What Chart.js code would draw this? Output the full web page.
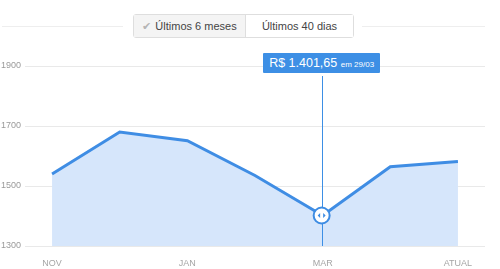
<!DOCTYPE html>
<html>
<head>
<meta charset="utf-8">
<script src="https://cdn.jsdelivr.net/npm/chart.js@4/dist/chart.umd.min.js"></script>
<style>
  html, body { margin: 0; padding: 0; background: #fff; }
  body { width: 500px; height: 269px; position: relative; overflow: hidden; font-family: "Liberation Sans", Arial, sans-serif; }
  #chart { position: absolute; left: 0; top: 0; }
  .rule { position: absolute; top: 26px; height: 1px; background: #eeeeee; }
  .tabs { position: absolute; left: 133px; top: 14px; height: 22px; display: flex; border: 1px solid #dedede; border-radius: 3px; font-size: 11px; color: #444; }
  .tabs div { line-height: 22px; text-align: center; }
  .tabs .on { width: 111px; background: #f4f4f4; border-right: 1px solid #dedede; }
  .tabs .off { width: 107px; background: #fff; }
  .tabs .chk { color: #b5b5b5; margin-right: 4px; font-size: 11px; }
  #tip { position: absolute; background: #3d8fe5; color: #fff; height: 20px; line-height: 20px; padding: 0 6px; font-size: 12.5px; white-space: nowrap; border-radius: 1px; }
  #tip small { font-size: 8px; }
</style>
</head>
<body>
<div class="rule" style="left:2px;width:121px"></div>
<div class="rule" style="left:362px;width:123px"></div>
<div class="tabs"><div class="on"><span class="chk">&#10004;</span>Últimos 6 meses</div><div class="off">Últimos 40 dias</div></div>
<canvas id="chart" width="500" height="269"></canvas>
<div id="tip"></div>
<script>
// periodo: ultimos 6 meses
const months = ['NOV', 'DEZ', 'JAN', 'FEV', 'MAR', 'ABR', 'ATUAL']
const shownTicks = [0, 2, 4, 6]
const prices = [1540, 1680, 1651, 1535, 1401.65, 1564, 1582]
const yTicks = [1300, 1500, 1700, 1900]
const hoverIdx = 4
const hoverDate = '29/03'

const points = prices.map((v, i) => ({x: i, y: v}))
const fmt = v => 'R$ ' + v.toLocaleString('pt-BR', {minimumFractionDigits: 2, maximumFractionDigits: 2})

// linha vertical + marcador no ponto selecionado
const hoverPlugin = {
  id: 'hoverMark',
  afterDatasetsDraw(chart) {
    const ctx = chart.ctx
    const px = chart.scales.x.getPixelForValue(hoverIdx) - 1
    const py = chart.scales.y.getPixelForValue(prices[hoverIdx])
    const area = chart.chartArea
    ctx.save()
    ctx.strokeStyle = '#3d8fe5'
    ctx.lineWidth = 1
    ctx.beginPath()
    ctx.moveTo(Math.round(px) + 0.5, area.top + 10)
    ctx.lineTo(Math.round(px) + 0.5, area.bottom)
    ctx.stroke()
    ctx.beginPath()
    ctx.arc(px, py, 8, 0, Math.PI * 2)
    ctx.fillStyle = '#fff'
    ctx.fill()
    ctx.lineWidth = 2
    ctx.strokeStyle = '#3d8ce3'
    ctx.stroke()
    ctx.fillStyle = '#3d8ce3'
    ctx.beginPath()
    ctx.moveTo(px - 4, py); ctx.lineTo(px - 1.5, py - 2.5); ctx.lineTo(px - 1.5, py + 2.5); ctx.closePath()
    ctx.moveTo(px + 4, py); ctx.lineTo(px + 1.5, py - 2.5); ctx.lineTo(px + 1.5, py + 2.5); ctx.closePath()
    ctx.fill()
    ctx.restore()

    const tip = document.getElementById('tip')
    tip.innerHTML = fmt(prices[hoverIdx]) + ' <small>em ' + hoverDate + '</small>'
    tip.style.left = (px - tip.offsetWidth / 2) + 'px'
    tip.style.top = (area.top - 13) + 'px'
  }
}

new Chart(document.getElementById('chart'), {
  type: 'line',
  data: {
    datasets: [{
      data: points,
      borderColor: '#3f8de4',
      borderWidth: 3,
      backgroundColor: '#d6e6fb',
      fill: 'start',
      pointRadius: 0,
      tension: 0
    }]
  },
  options: {
    responsive: false,
    animation: false,
    events: [],
    layout: { padding: { top: 66, right: 15, left: 0, bottom: 0 } },
    plugins: { legend: { display: false }, tooltip: { enabled: false } },
    scales: {
      x: {
        type: 'linear',
        min: -0.4,
        max: 6.4,
        afterBuildTicks: s => { s.ticks = shownTicks.map(v => ({value: v})) },
        afterFit: s => { s.height = 23 },
        grid: { display: false },
        border: { display: false },
        ticks: {
          callback: v => months[v],
          color: '#a5a5a5',
          font: { size: 9, family: 'Liberation Sans' },
          padding: 4,
          maxRotation: 0
        }
      },
      y: {
        min: 1300,
        max: 1900,
        afterBuildTicks: s => { s.ticks = yTicks.map(v => ({value: v})) },
        afterFit: s => { s.width = 25 },
        grid: { color: '#e9e9e9', drawTicks: false },
        border: { display: false },
        ticks: {
          callback: v => String(v),
          color: '#9a9a9a',
          font: { size: 9, family: 'Liberation Sans' },
          padding: 4
        }
      }
    }
  },
  plugins: [hoverPlugin]
})
</script>
</body>
</html>
